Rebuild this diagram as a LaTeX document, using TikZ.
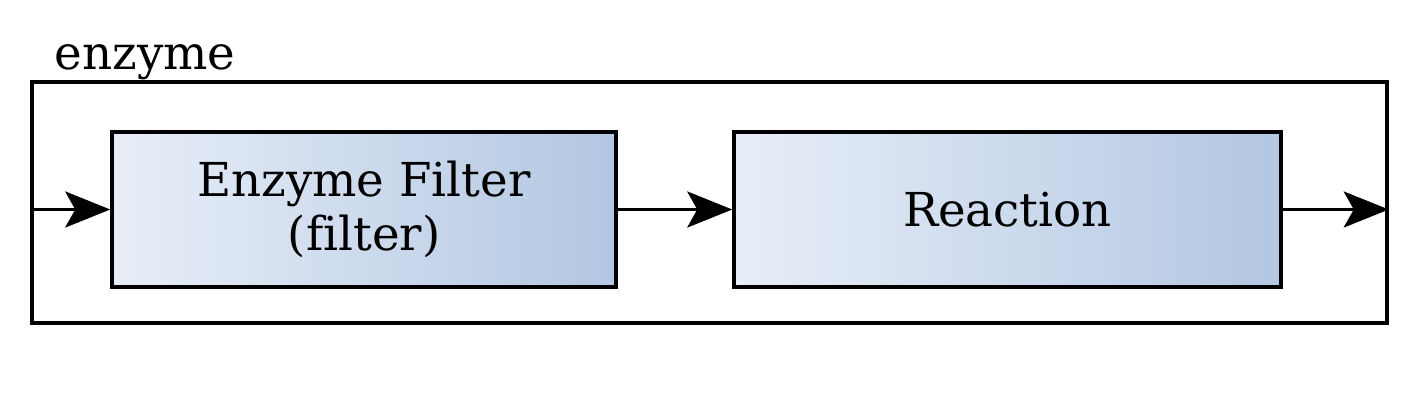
\documentclass[tikz,border=0pt]{standalone}
\usepackage{fontspec}
\setmainfont[Ligatures=NoCommon]{DejaVu Serif}
\usepackage{xcolor}
\definecolor{stageleft}{RGB}{232, 238, 248}
\definecolor{stageright}{RGB}{178, 199, 226}
\usetikzlibrary{arrows.meta, positioning}

\begin{document}
\begin{tikzpicture}[
  stage/.style={draw=black, line width=0.035cm, left color=stageleft, right color=stageright, align=center, font=\fontsize{13.3pt}{15.5pt}\selectfont, inner sep=0pt},
  flow/.style={-{Stealth[length=0.45cm, width=0.36cm, inset=0.1cm]}, line width=0.035cm}
]
\useasboundingbox (0,0) rectangle (14.26,-4.10);

% cluster
\node[draw=black, line width=0.035cm, minimum width=13.55cm, minimum height=2.41cm, inner sep=0pt] (enzyme) at (7.095,-2.025) {};
\node[font=\fontsize{13.3pt}{15.5pt}\selectfont, anchor=base west, inner sep=0pt] (enzymelabel) at (0.54,-0.70) {enzyme};

% stufen
\node[stage, minimum width=5.04cm, minimum height=1.55cm] (filter) at (3.64,-2.095) {Enzyme Filter\\(filter)};
\node[stage, minimum width=5.47cm, minimum height=1.55cm] (reaction) at (10.075,-2.095) {Reaction};

% ein- und ausgang
\coordinate (in) at (enzyme.west |- filter.west);
\coordinate (out) at (enzyme.east |- reaction.east);

% flechas
\draw[flow] (in) -- (filter);
\draw[flow] (filter) -- (reaction);
\draw[flow] (reaction) -- (out);
\end{tikzpicture}
\end{document}
